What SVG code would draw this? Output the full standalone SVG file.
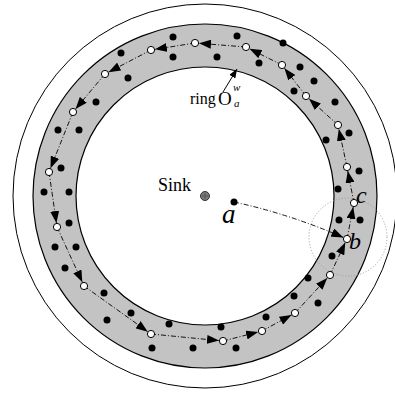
<svg xmlns="http://www.w3.org/2000/svg" width="395" height="394" viewBox="0 0 395 394">
<style>
.ring{stroke:#000;stroke-width:1.2}
.flow{fill:none;stroke:#000;stroke-width:0.9;stroke-dasharray:5,2,1,2;marker-end:url(#arr)}
.bd{fill:#000}
.wd{fill:#fff;stroke:#000;stroke-width:1}
.serif{font-family:"Liberation Serif","Times New Roman",serif;fill:#000}
.it{font-style:italic}
</style>
<defs>
<marker id="arr" markerUnits="userSpaceOnUse" markerWidth="12" markerHeight="9" refX="16" refY="4.5" orient="auto">
<path d="M0,0 L12,4.5 L0,9 Z" fill="#000"/>
</marker>
<marker id="arr2" markerUnits="userSpaceOnUse" markerWidth="9" markerHeight="7" refX="9" refY="3.5" orient="auto">
<path d="M0,0 L9,3.5 L0,7 Z" fill="#000"/>
</marker>
</defs>
<g id="field">
<circle cx="205" cy="196" r="192" fill="#fff" stroke="#000" stroke-width="1"/>
<circle class="ring" cx="205" cy="196" r="172" fill="#c3c3c3"/>
<circle class="ring" cx="205" cy="196" r="129" fill="#fff"/>
<circle cx="348" cy="237" r="39" fill="none" stroke="#999" stroke-width="1" stroke-dasharray="1,2"/>
</g>
<g id="connectors">
<path class="flow" d="M347,239 L354,203"/>
<path class="flow" d="M354,203 L347,167"/>
<path class="flow" d="M347,167 L338,125"/>
<path class="flow" d="M338,125 L306,96"/>
<path class="flow" d="M306,96 L282,65"/>
<path class="flow" d="M282,65 L246,47"/>
<path class="flow" d="M246,47 L195,43"/>
<path class="flow" d="M195,43 L151,50"/>
<path class="flow" d="M151,50 L105,74"/>
<path class="flow" d="M105,74 L73,112"/>
<path class="flow" d="M73,112 L49,172"/>
<path class="flow" d="M49,172 L57,227"/>
<path class="flow" d="M57,227 L84,286"/>
<path class="flow" d="M84,286 L151,334"/>
<path class="flow" d="M151,334 L223,341"/>
<path class="flow" d="M223,341 L262,331"/>
<path class="flow" d="M262,331 L295,313"/>
<path class="flow" d="M295,313 L330,275"/>
<path class="flow" d="M330,275 L347,239"/>
<path class="flow" d="M234,202 Q290,214 347,239"/>
<path d="M223,92 L237,69" fill="none" stroke="#000" stroke-width="1" marker-end="url(#arr2)"/>
</g>
<g id="sensors">
<circle class="bd" cx="173" cy="37" r="3.5"/><circle class="bd" cx="173" cy="57" r="3.5"/>
<circle class="bd" cx="121" cy="53" r="3.5"/><circle class="bd" cx="128" cy="78" r="3.5"/>
<circle class="bd" cx="96" cy="102" r="3.5"/><circle class="bd" cx="58" cy="130" r="3.5"/>
<circle class="bd" cx="79" cy="130" r="3.5"/><circle class="bd" cx="61" cy="168" r="3.5"/>
<circle class="bd" cx="44" cy="192" r="3.5"/><circle class="bd" cx="69" cy="192" r="3.5"/>
<circle class="bd" cx="237" cy="36" r="3.5"/><circle class="bd" cx="217" cy="57" r="3.5"/>
<circle class="bd" cx="283" cy="43" r="3.5"/><circle class="bd" cx="259" cy="63" r="3.5"/>
<circle class="bd" cx="300" cy="67" r="3.5"/><circle class="bd" cx="314" cy="81" r="3.5"/>
<circle class="bd" cx="294" cy="91" r="3.5"/><circle class="bd" cx="335" cy="102" r="3.5"/>
<circle class="bd" cx="349" cy="133" r="3.5"/><circle class="bd" cx="326" cy="140" r="3.5"/>
<circle class="bd" cx="359" cy="171" r="3.5"/><circle class="bd" cx="338" cy="189" r="3.5"/>
<circle class="bd" cx="69" cy="223" r="3.5"/><circle class="bd" cx="55" cy="247" r="3.5"/>
<circle class="bd" cx="76" cy="247" r="3.5"/><circle class="bd" cx="65" cy="268" r="3.5"/>
<circle class="bd" cx="104" cy="293" r="3.5"/><circle class="bd" cx="131" cy="313" r="3.5"/>
<circle class="bd" cx="107" cy="320" r="3.5"/><circle class="bd" cx="169" cy="324" r="3.5"/>
<circle class="bd" cx="152" cy="348" r="3.5"/><circle class="bd" cx="193" cy="348" r="3.5"/>
<circle class="bd" cx="339" cy="220" r="3.5"/><circle class="bd" cx="360" cy="220" r="3.5"/>
<circle class="bd" cx="332" cy="256" r="3.5"/><circle class="bd" cx="308" cy="278" r="3.5"/>
<circle class="bd" cx="294" cy="296" r="3.5"/><circle class="bd" cx="318" cy="303" r="3.5"/>
<circle class="bd" cx="266" cy="317" r="3.5"/><circle class="bd" cx="221" cy="327" r="3.5"/>
<circle class="bd" cx="236" cy="348" r="3.5"/>
</g>
<g id="path-nodes">
<circle class="wd" cx="354" cy="203" r="3.6"/><circle class="wd" cx="347" cy="167" r="3.6"/>
<circle class="wd" cx="338" cy="125" r="3.6"/><circle class="wd" cx="306" cy="96" r="3.6"/>
<circle class="wd" cx="282" cy="65" r="3.6"/><circle class="wd" cx="246" cy="47" r="3.6"/>
<circle class="wd" cx="195" cy="43" r="3.6"/><circle class="wd" cx="151" cy="50" r="3.6"/>
<circle class="wd" cx="105" cy="74" r="3.6"/><circle class="wd" cx="73" cy="112" r="3.6"/>
<circle class="wd" cx="49" cy="172" r="3.6"/><circle class="wd" cx="57" cy="227" r="3.6"/>
<circle class="wd" cx="84" cy="286" r="3.6"/><circle class="wd" cx="151" cy="334" r="3.6"/>
<circle class="wd" cx="223" cy="341" r="3.6"/><circle class="wd" cx="262" cy="331" r="3.6"/>
<circle class="wd" cx="295" cy="313" r="3.6"/><circle class="wd" cx="330" cy="275" r="3.6"/>
</g>
<g id="node-b"><circle class="wd" cx="347" cy="239" r="3.6"/><text class="serif it" x="349" y="249" font-size="24">b</text></g>
<g id="node-c"><text class="serif it" x="356" y="203" font-size="24">c</text></g>
<g id="node-a"><circle class="bd" cx="234" cy="202" r="3.5"/><text class="serif it" x="222" y="223" font-size="27">a</text></g>
<g id="sink">
<circle cx="205" cy="196" r="4.5" fill="#7a7a7a" stroke="#333" stroke-width="1"/>
<path d="M202,196 H208 M205,193 V199" stroke="#444" stroke-width="0.6"/>
<text class="serif" x="158" y="191" font-size="18">Sink</text>
</g>
<g id="ring-label">
<text class="serif" x="190" y="104" font-size="16">ring</text>
<text class="serif" x="218" y="104.5" font-size="19">O</text>
<text class="serif it" x="233" y="91" font-size="11">w</text>
<text class="serif it" x="234" y="107" font-size="11">a</text>
</g>
</svg>
